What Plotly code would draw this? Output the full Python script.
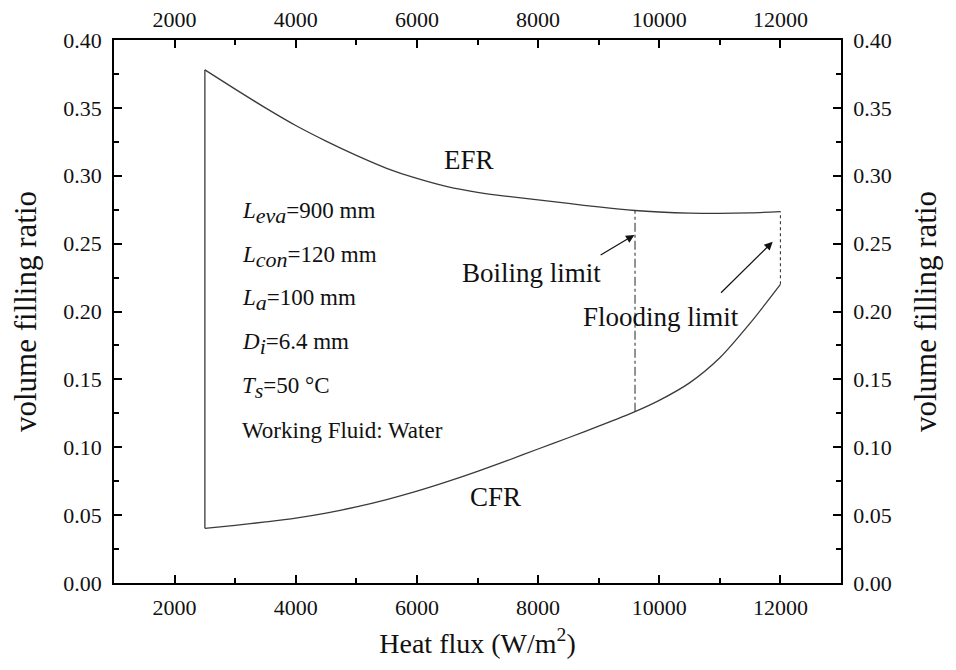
import plotly.graph_objects as go

# Data
heat_flux = [2500, 3000, 3500, 4000, 4500, 5000, 5500, 6000, 6500, 7000, 7500,
             8000, 8500, 9000, 9600, 10000, 10500, 11000, 11500, 12000]
efr = [0.378, 0.3638, 0.3500, 0.3370, 0.3255, 0.3150, 0.3055, 0.2980, 0.2920, 0.2878, 0.2848,
       0.2822, 0.2796, 0.2770, 0.2744, 0.2733, 0.2725, 0.2723, 0.2727, 0.2736]
cfr = [0.0403, 0.0425, 0.0450, 0.0478, 0.0515, 0.0560, 0.0614, 0.0676, 0.0746, 0.0822, 0.0903,
       0.0987, 0.1070, 0.1155, 0.1262, 0.1345, 0.1474, 0.1659, 0.1914, 0.2200]
boiling_limit_q = 9600
flooding_limit_q = 12000
x_ticks = [2000, 4000, 6000, 8000, 10000, 12000]
y_ticks = [0.00, 0.05, 0.10, 0.15, 0.20, 0.25, 0.30, 0.35, 0.40]
SUB = "<sub><span style='font-size:22px'>{}</span></sub>"
params = ["<i>L</i>" + SUB.format("<i>eva</i>") + "=900 mm",
          "<i>L</i>" + SUB.format("<i>con</i>") + "=120 mm",
          "<i>L</i>" + SUB.format("<i>a</i>") + "=100 mm",
          "<i>D</i>" + SUB.format("<i>i</i>") + "=6.4 mm",
          "<i>T</i>" + SUB.format("<i>s</i>") + "=50 °C",
          "Working Fluid: Water"]

FONT = "Liberation Serif, Times New Roman, serif"
LC = "#3a3a3a"
TC = "#111111"
ib = heat_flux.index(boiling_limit_q)
iflood = heat_flux.index(flooding_limit_q)

fig = go.Figure()
fig.add_trace(go.Scatter(x=heat_flux, y=efr, mode="lines",
                         line=dict(color=LC, width=1.3, shape="spline", smoothing=0.8),
                         showlegend=False))
fig.add_trace(go.Scatter(x=heat_flux, y=cfr, mode="lines",
                         line=dict(color=LC, width=1.3, shape="spline", smoothing=0.8),
                         showlegend=False))
fig.add_trace(go.Scatter(x=[heat_flux[0], heat_flux[0]], y=[cfr[0], efr[0]], mode="lines",
                         line=dict(color=LC, width=1.3), showlegend=False))
fig.add_trace(go.Scatter(x=[boiling_limit_q, boiling_limit_q], y=[cfr[ib], efr[ib]], mode="lines",
                         line=dict(color=LC, width=1.1, dash="dashdot"), showlegend=False))
fig.add_trace(go.Scatter(x=[flooding_limit_q, flooding_limit_q], y=[cfr[iflood], efr[iflood]],
                         mode="lines", line=dict(color=LC, width=1.1, dash="dot"), showlegend=False))
# invisible trace for top/right axes
fig.add_trace(go.Scatter(x=[1000, 13000], y=[0, 0.4], xaxis="x2", yaxis="y2", mode="markers",
                         marker=dict(opacity=0), hoverinfo="skip", showlegend=False))

axis_common = dict(showline=True, linecolor="black", linewidth=1.6, ticks="inside",
                   ticklen=8, tickwidth=1.5, tickcolor="black", showgrid=False,
                   zeroline=False, automargin=False,
                   tickfont=dict(family=FONT, size=22, color=TC))
xminor = dict(ticks="inside", ticklen=5, tickwidth=1.5, tickcolor="black", dtick=1000, tick0=1000)
yminor = dict(ticks="inside", ticklen=5, tickwidth=1.5, tickcolor="black", dtick=0.025, tick0=0)

fig.update_layout(
    width=948, height=654,
    margin=dict(l=106, r=115, t=32, b=79),
    plot_bgcolor="white", paper_bgcolor="white",
    font=dict(family=FONT, color=TC),
    xaxis=dict(range=[1000, 13000], tickvals=x_ticks, ticktext=[str(v) for v in x_ticks],
               minor=xminor, ticklabelstandoff=4,
               title=dict(text="Heat flux (W/m<sup>2</sup>)", font=dict(family=FONT, size=28), standoff=14),
               **axis_common),
    yaxis=dict(range=[0, 0.4], tickvals=y_ticks, ticktext=[f"{v:.2f}" for v in y_ticks],
               minor=yminor, ticklabelstandoff=6,
               title=dict(text="volume filling ratio", font=dict(family=FONT, size=31), standoff=22),
               **axis_common),
    xaxis2=dict(range=[1000, 13000], overlaying="x", side="top", anchor="y",
                tickvals=x_ticks, ticktext=[str(v) for v in x_ticks],
                minor=xminor, ticklabelstandoff=2, **axis_common),
    yaxis2=dict(range=[0, 0.4], overlaying="y", side="right", anchor="x",
                tickvals=y_ticks, ticktext=[f"{v:.2f}" for v in y_ticks],
                minor=yminor, ticklabelstandoff=6,
                title=dict(text="volume filling ratio", font=dict(family=FONT, size=31), standoff=24),
                **axis_common),
)

annos = []
ys = [0.2725, 0.2405, 0.2088, 0.1758, 0.1434, 0.1127]
for t, yv in zip(params, ys):
    annos.append(dict(x=3080, y=yv, xref="x", yref="y", text=t, showarrow=False,
                      xanchor="left", yanchor="middle", font=dict(family=FONT, size=23, color=TC)))
annos.append(dict(x=6858, y=0.3116, xref="x", yref="y", text="EFR", showarrow=False,
                  font=dict(family=FONT, size=27, color=TC)))
annos.append(dict(x=7300, y=0.0636, xref="x", yref="y", text="CFR", showarrow=False,
                  font=dict(family=FONT, size=27, color=TC)))
annos.append(dict(x=7898, y=0.2284, xref="x", yref="y", text="Boiling limit", showarrow=False,
                  font=dict(family=FONT, size=27, color=TC)))
annos.append(dict(x=10034, y=0.1962, xref="x", yref="y", text="Flooding limit", showarrow=False,
                  font=dict(family=FONT, size=27, color=TC)))
annos.append(dict(x=9590, y=0.2564, ax=9008, ay=0.2409, xref="x", yref="y", axref="x", ayref="y",
                  text="", showarrow=True, arrowhead=2, arrowsize=1.4, arrowwidth=1.2, arrowcolor=TC))
annos.append(dict(x=11873, y=0.2514, ax=10995, ay=0.2127, xref="x", yref="y", axref="x", ayref="y",
                  text="", showarrow=True, arrowhead=2, arrowsize=1.4, arrowwidth=1.2, arrowcolor=TC))
fig.update_layout(annotations=annos)

fig.write_html("out.html")
